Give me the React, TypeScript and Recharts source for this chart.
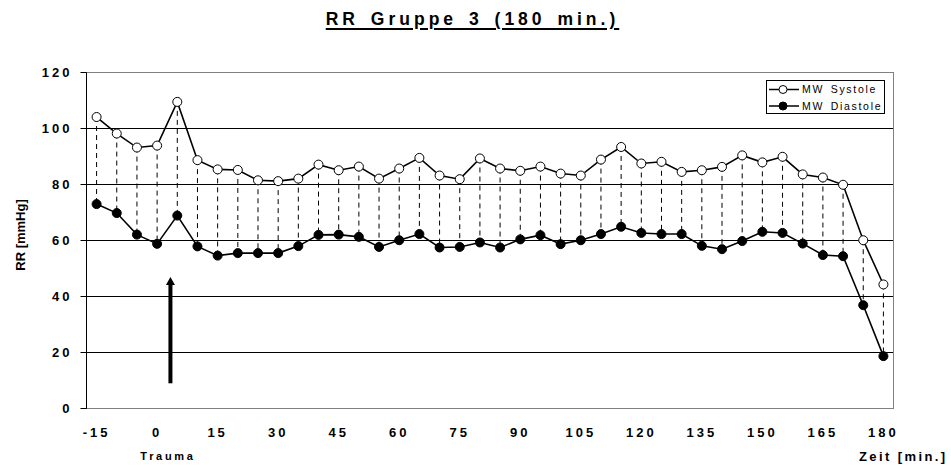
import React from "react";
import {
  ComposedChart,
  Line,
  XAxis,
  YAxis,
  CartesianGrid,
  ReferenceLine,
} from "recharts";

const times = [
  -15, -10, -5, 0, 5, 10, 15, 20, 25, 30, 35, 40, 45, 50, 55, 60, 65, 70, 75, 80,
  85, 90, 95, 100, 105, 110, 115, 120, 125, 130, 135, 140, 145, 150, 155, 160,
  165, 170, 175, 180,
];
const systole = [
  104.1, 98.2, 93.2, 93.9, 109.5, 88.7, 85.4, 85.2, 81.5, 81.2, 82.1, 87.1,
  85.1, 86.4, 82.1, 85.7, 89.5, 83.2, 81.9, 89.3, 85.7, 84.9, 86.4, 83.9, 83.2,
  88.9, 93.4, 87.5, 88.1, 84.5, 85.1, 86.3, 90.4, 87.9, 89.9, 83.6, 82.5, 79.9,
  60.1, 44.3,
];
const diastole = [
  73.0, 69.8, 62.1, 58.8, 68.9, 57.9, 54.6, 55.5, 55.5, 55.5, 58.0, 62.0, 62.1,
  61.3, 57.7, 60.1, 62.3, 57.5, 57.7, 59.3, 57.5, 60.4, 61.9, 58.7, 60.1, 62.3,
  64.9, 62.7, 62.3, 62.3, 58.1, 56.9, 59.8, 63.1, 62.7, 58.9, 54.8, 54.4, 36.9,
  18.7,
];
const seriesNames = ["MW Systole", "MW Diastole"];
const yTicks = [0, 20, 40, 60, 80, 100, 120];
const xTickLabels = [-15, 0, 15, 30, 45, 60, 75, 90, 105, 120, 135, 150, 165, 180];
// trauma arrow, in data units (x in min, y in mmHg)
const traumaArrow = { x: 3.3, from: 9, to: 47 };

const data = times.map((t, i) => ({ t, sys: systole[i], dia: diastole[i] }));
// tick marks sit between categories (5 min apart)
const boundaryTicks = xTickLabels.map((v) => v - 2.5);
const xDomain = [times[0] - 2.5, times[times.length - 1] + 2.5];

const FONT = '"Liberation Sans", Arial, sans-serif';

const XTick = (props: any) => {
  const { x, y, payload } = props;
  return (
    <text
      x={x}
      y={y}
      dy="0.71em"
      textAnchor="middle"
      style={{ fontFamily: FONT, fontSize: 13, fontWeight: 700, letterSpacing: 3 }}
      fill="#000"
    >
      {payload.value}
    </text>
  );
};

const YTick = (props: any) => {
  const { x, y, payload } = props;
  return (
    <text
      x={x}
      y={y}
      dy="0.36em"
      textAnchor="end"
      style={{ fontFamily: FONT, fontSize: 13, fontWeight: 700, letterSpacing: 3 }}
      fill="#000"
    >
      {payload.value}
    </text>
  );
};

const ArrowShape = (props: any) => {
  const { x1, y1, x2, y2 } = props;
  const head = 8;
  return (
    <g>
      <line x1={x1} y1={y1} x2={x2} y2={y2 + head - 1} stroke="#000" strokeWidth={4} />
      <polygon
        points={`${x2},${y2} ${x2 - 4.5},${y2 + head} ${x2 + 4.5},${y2 + head}`}
        fill="#000"
      />
    </g>
  );
};

const Legend = () => (
  <svg
    width={120}
    height={34}
    style={{ position: "absolute", left: 766, top: 80 }}
  >
    <rect x={0.5} y={0.5} width={118} height={33} fill="#fff" stroke="#000" />
    {seriesNames.map((name, i) => {
      const cy = 9.5 + i * 16.5;
      return (
        <g key={name}>
          <line x1={3} x2={33} y1={cy} y2={cy} stroke="#000" strokeWidth={1.5} />
          <circle
            cx={17}
            cy={cy}
            r={4}
            fill={i === 0 ? "#fff" : "#000"}
            stroke="#000"
          />
          <text
            x={36}
            y={cy}
            dy="0.35em"
            style={{ fontFamily: FONT, fontSize: 10.5, letterSpacing: 1.7, wordSpacing: 2 }}
          >
            {name}
          </text>
        </g>
      );
    })}
  </svg>
);

export default function App() {
  return (
    <div
      style={{
        position: "absolute",
        left: 0,
        top: 0,
        width: 951,
        height: 466,
        background: "#fff",
        fontFamily: FONT,
      }}
    >
      <div
        style={{
          position: "absolute",
          left: 0,
          top: 10,
          width: 945,
          textAlign: "center",
          fontSize: 17.5,
          lineHeight: "19px",
          fontWeight: 700,
          letterSpacing: 4,
          wordSpacing: 3,
          textDecoration: "underline",
          textDecorationThickness: 2,
          textUnderlineOffset: 3,
        }}
      >
        RR Gruppe 3 (180 min.)
      </div>

      <ComposedChart
        width={951}
        height={466}
        data={data}
        margin={{ top: 72.5, right: 57.5, left: 0, bottom: 21.5 }}
      >
        <CartesianGrid vertical={false} stroke="#000" xAxisId="grid" />
        <XAxis
          xAxisId="grid"
          dataKey="t"
          type="number"
          domain={xDomain}
          ticks={boundaryTicks}
          interval={0}
          tick={false}
          tickSize={5}
          height={6}
          axisLine={{ stroke: "#808080" }}
          tickLine={{ stroke: "#000" }}
        />
        <XAxis
          xAxisId="lab"
          dataKey="t"
          type="number"
          domain={xDomain}
          ticks={xTickLabels}
          interval={0}
          tick={<XTick />}
          tickSize={0}
          tickMargin={13}
          height={30}
          axisLine={false}
          tickLine={false}
        />
        <YAxis
          type="number"
          domain={[0, 120]}
          ticks={yTicks}
          interval={0}
          width={86.5}
          tickSize={6}
          tickMargin={8}
          tick={<YTick />}
          axisLine={{ stroke: "#000" }}
          tickLine={{ stroke: "#000" }}
          label={{
            content: () => (
              <text
                x={20}
                y={235}
                transform="rotate(-90 20 235)"
                textAnchor="middle"
                dy="0.35em"
                style={{ fontFamily: FONT, fontSize: 13, fontWeight: 700 }}
              >
                RR [mmHg]
              </text>
            ),
          }}
        />
        <ReferenceLine xAxisId="grid" y={120} stroke="#808080" />
        <ReferenceLine xAxisId="grid" x={xDomain[1]} stroke="#808080" />
        {data.map((d) => (
          <ReferenceLine
            key={d.t}
            xAxisId="grid"
            segment={[
              { x: d.t, y: d.sys },
              { x: d.t, y: d.dia },
            ]}
            stroke="#000"
            strokeDasharray="5 4"
          />
        ))}
        <ReferenceLine
          xAxisId="grid"
          segment={[
            { x: traumaArrow.x, y: traumaArrow.from },
            { x: traumaArrow.x, y: traumaArrow.to },
          ]}
          shape={<ArrowShape />}
        />
        <Line
          xAxisId="grid"
          type="linear"
          dataKey="sys"
          name={seriesNames[0]}
          stroke="#000"
          strokeWidth={1.6}
          dot={{ r: 4.5, fill: "#fff", stroke: "#000", strokeWidth: 1 }}
          activeDot={false}
          isAnimationActive={false}
        />
        <Line
          xAxisId="grid"
          type="linear"
          dataKey="dia"
          name={seriesNames[1]}
          stroke="#000"
          strokeWidth={1.6}
          dot={{ r: 4.5, fill: "#000", stroke: "#000", strokeWidth: 1 }}
          activeDot={false}
          isAnimationActive={false}
        />
      </ComposedChart>

      <Legend />

      <div
        style={{
          position: "absolute",
          left: 116,
          top: 450,
          width: 100,
          paddingLeft: 2,
          textAlign: "center",
          fontSize: 11,
          lineHeight: "13px",
          fontWeight: 700,
          letterSpacing: 2.7,
        }}
      >
        Trauma
      </div>
      <div
        style={{
          position: "absolute",
          left: 859,
          top: 449,
          fontSize: 13,
          lineHeight: "15px",
          fontWeight: 700,
          letterSpacing: 2.4,
          whiteSpace: "nowrap",
        }}
      >
        Zeit [min.]
      </div>
    </div>
  );
}
